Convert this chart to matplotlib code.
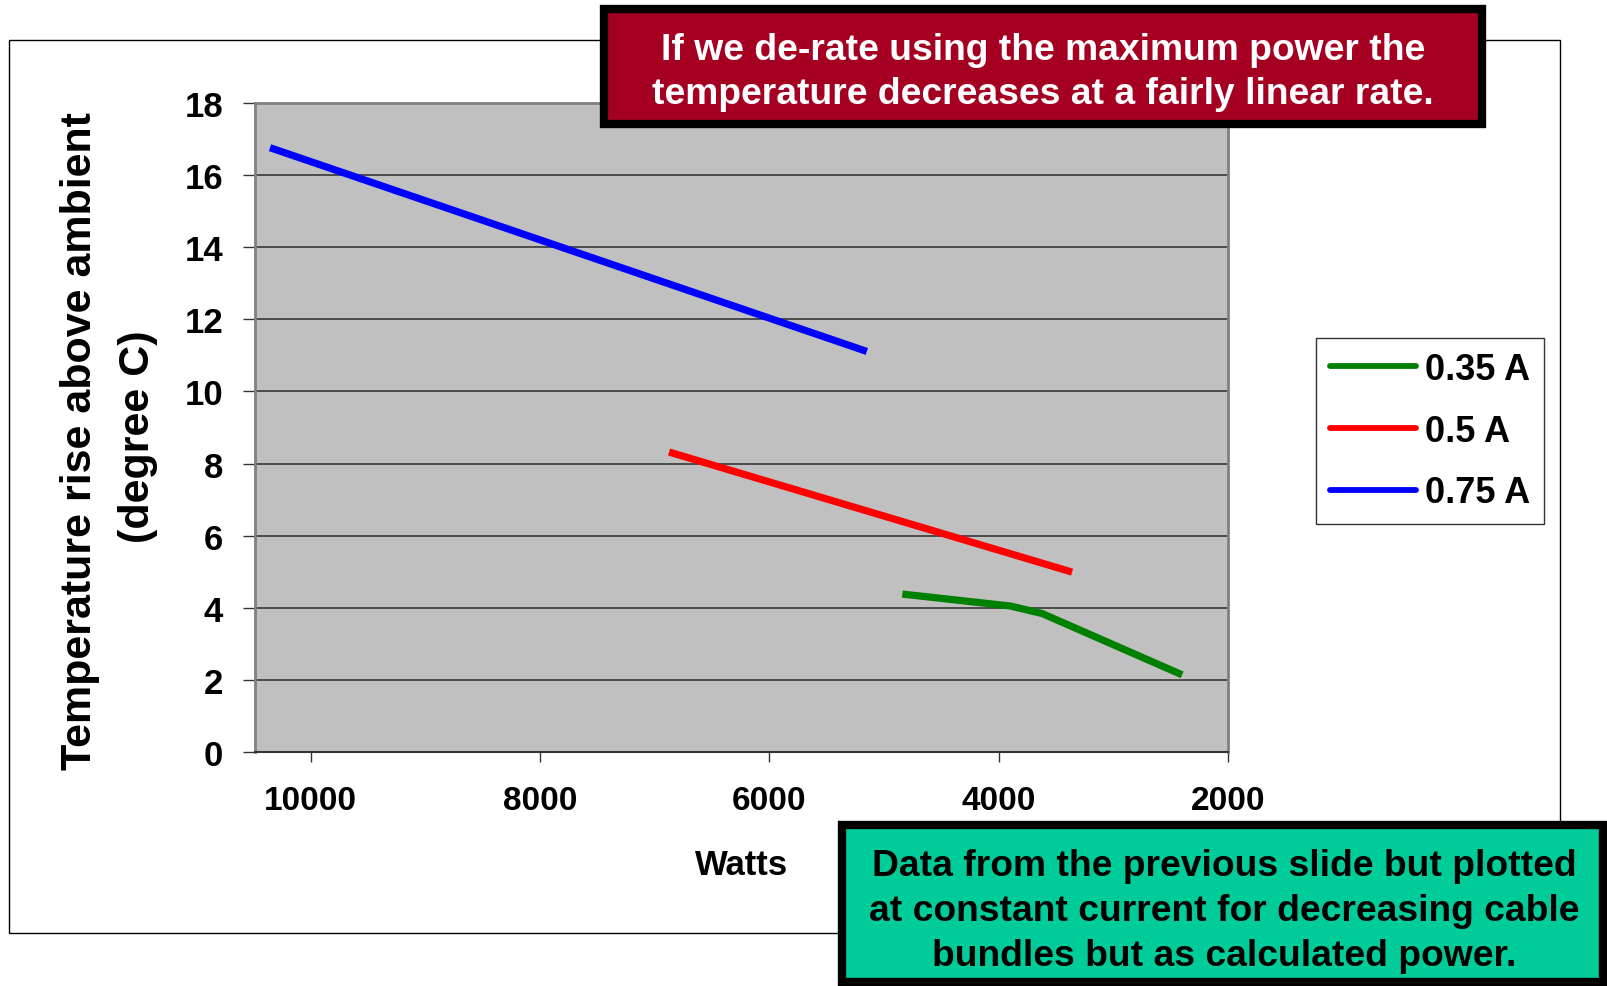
import matplotlib
matplotlib.use("Agg")
import matplotlib.pyplot as plt
from matplotlib.patches import Rectangle

plt.rcParams['font.family'] = ['Liberation Sans', 'DejaVu Sans']
plt.rcParams['font.weight'] = 'bold'

# watts vs temperature rise, one series per constant current
watts_035 = [4840, 4130, 3900, 3620, 2400]
temp_035 = [4.38, 4.13, 4.05, 3.84, 2.14]
watts_05 = [6875, 3360]
temp_05 = [8.32, 4.99]
watts_075 = [10355, 5150]
temp_075 = [16.76, 11.11]

series_labels = ['0.35 A', '0.5 A', '0.75 A']
series_colors = ['#008000', '#FF0000', '#0000FF']
y_ticks = list(range(0, 19, 2))
x_ticks = [10000, 8000, 6000, 4000, 2000]

W, H = 1607, 987
fig = plt.figure(figsize=(W / 100, H / 100), dpi=100)

def fx(px):
    return px / W

def fy(py):
    return 1 - py / H

# chart frame
fig.add_artist(Rectangle((fx(9), fy(934)), fx(1560) - fx(9), fy(41) - fy(934),
                         transform=fig.transFigure, fill=False, edgecolor='black', lw=1.0))

ax = fig.add_axes([fx(255), fy(753), fx(1228) - fx(255), fy(104) - fy(753)])
ax.set_facecolor('#C0C0C0')

for xs, ys, c, lab in zip([watts_035, watts_05, watts_075],
                          [temp_035, temp_05, temp_075],
                          series_colors, series_labels):
    ax.plot(xs, ys, color=c, lw=5.2, solid_capstyle='butt', solid_joinstyle='round', label=lab)

ax.set_xlim(10486, 2000)
ax.set_ylim(0, 18)
ax.set_yticks(y_ticks)
ax.set_xticks(x_ticks)
ax.set_yticklabels([str(v) for v in y_ticks], fontsize=25, fontweight='bold')
ax.set_xticklabels([str(v) for v in x_ticks], fontsize=24, fontweight='bold')
ax.yaxis.grid(True, color='#383838', lw=1.2)
ax.set_axisbelow(True)
ax.tick_params(axis='y', direction='out', length=9, width=1, color='#333333', pad=14)
ax.tick_params(axis='x', direction='out', length=7, width=1, color='#333333', pad=17)
for side in ['left', 'top', 'right']:
    ax.spines[side].set_color('#808080')
    ax.spines[side].set_linewidth(2)
ax.spines['bottom'].set_color('#333333')
ax.spines['bottom'].set_linewidth(1.5)

ax.set_xlabel('Watts', fontsize=25, fontweight='bold', labelpad=23)

fig.text(fx(80), fy(441), 'Temperature rise above ambient', rotation=90,
         ha='center', va='center', fontsize=31, fontweight='bold')
fig.text(fx(138), fy(437), '(degree C)', rotation=90,
         ha='center', va='center', fontsize=31, fontweight='bold')

leg = ax.legend(loc='center', bbox_to_anchor=(fx(1430), fy(432)), bbox_transform=fig.transFigure,
                fontsize=26, frameon=True, fancybox=False, edgecolor='black',
                handlelength=2.4, handletextpad=0.25, labelspacing=0.74, borderpad=0.38)
leg.get_frame().set_linewidth(1.0)
for line in leg.get_lines():
    line.set_linewidth(4.2)
    line.set_solid_capstyle('round')

# callout boxes
fig.add_artist(Rectangle((fx(604), fy(125)), fx(1482) - fx(604), fy(10) - fy(125),
                         transform=fig.transFigure, facecolor='#A50021', edgecolor='black', lw=6))
fig.text(fx(1043), fy(50), 'If we de-rate using the maximum power the',
         ha='center', va='center', fontsize=26.8, fontweight='bold', color='white')
fig.text(fx(1043), fy(94), 'temperature decreases at a fairly linear rate.',
         ha='center', va='center', fontsize=26.8, fontweight='bold', color='white')

fig.add_artist(Rectangle((fx(842), fy(983)), fx(1603) - fx(842), fy(826) - fy(983),
                         transform=fig.transFigure, facecolor='#00CC99', edgecolor='black', lw=6))
for txt, py in zip(['Data from the previous slide but plotted',
                    'at constant current for decreasing cable',
                    'bundles but as calculated power.'], [867, 912, 957]):
    fig.text(fx(1224), fy(py), txt, ha='center', va='center', fontsize=26.8,
             fontweight='bold', color='black')

fig.savefig('out.png', dpi=100)
